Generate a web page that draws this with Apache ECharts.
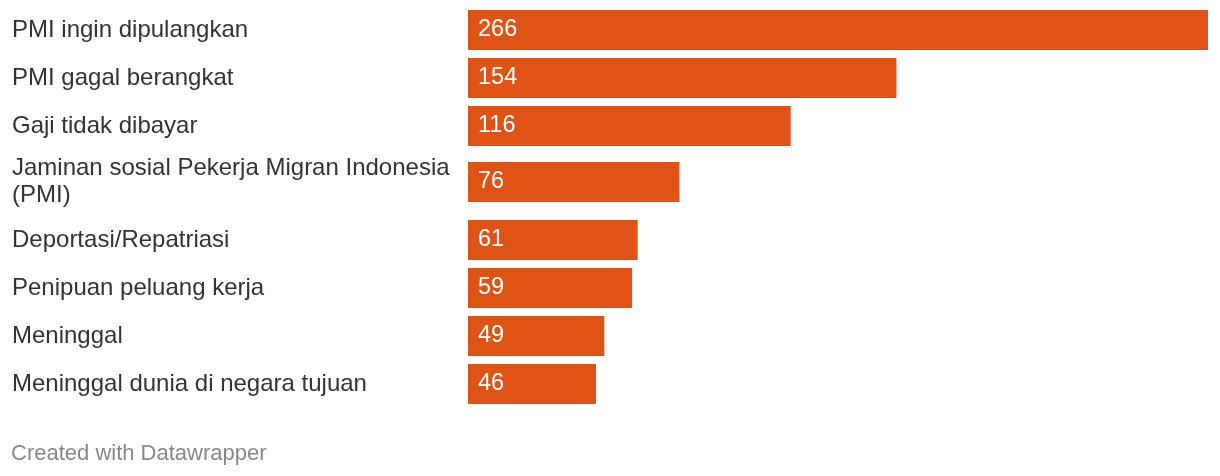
<!DOCTYPE html>
<html><head><meta charset="utf-8">
<script src="https://cdn.jsdelivr.net/npm/echarts@6/dist/echarts.min.js"></script>
<style>html,body{margin:0;padding:0;background:#fff}#c{width:1220px;height:476px}</style>
</head><body><div id="c"></div>
<script>
var categories = ["PMI ingin dipulangkan","PMI gagal berangkat","Gaji tidak dibayar","Jaminan sosial Pekerja Migran Indonesia (PMI)","Deportasi/Repatriasi","Penipuan peluang kerja","Meninggal","Meninggal dunia di negara tujuan"];
var values = [266,154,116,76,61,59,49,46];
var footer = "Created with Datawrapper";

var FONT = '"Liberation Sans", Arial, Helvetica, sans-serif';
var maxV = Math.max.apply(null, values);
// groups of rows (the two-line label row gets its own taller band)
var groups = [
  {from:0, to:3, top:6, h:144},
  {from:3, to:4, top:150, h:64},
  {from:4, to:8, top:216, h:192}
];
var grids=[], xAxes=[], yAxes=[], series=[];
groups.forEach(function(g,i){
  grids.push({left:468, right:12, top:g.top, height:g.h, containLabel:false});
  xAxes.push({type:'value', gridIndex:i, min:0, max:maxV, show:false});
  yAxes.push({type:'category', gridIndex:i, inverse:true, data:categories.slice(g.from,g.to),
    axisLine:{show:false}, axisTick:{show:false}, splitLine:{show:false},
    axisLabel:{align:'left', margin:456, color:'#333', fontSize:24, fontFamily:FONT,
      width:452, overflow:'break', lineHeight:27}});
  series.push({type:'bar', xAxisIndex:i, yAxisIndex:i, data:values.slice(g.from,g.to),
    barWidth:40, itemStyle:{color:'#df5316'}, silent:true, animation:false,
    label:{show:true, position:'insideLeft', distance:10, color:'#fff', fontSize:23.5, fontFamily:FONT}});
});
var chart = echarts.init(document.getElementById('c'));
chart.setOption({
  animation:false,
  title:{text:footer, left:11, top:443, padding:0, textStyle:{color:'#888', fontSize:22, fontWeight:'normal', fontFamily:FONT}},
  grid:grids, xAxis:xAxes, yAxis:yAxes, series:series
});
</script></body></html>
